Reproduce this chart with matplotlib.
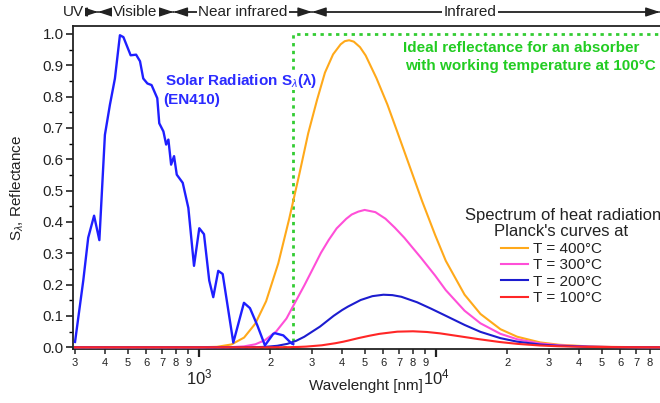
import numpy as np
import matplotlib
matplotlib.use('Agg')
import matplotlib.pyplot as plt
from matplotlib.ticker import FixedLocator, FixedFormatter, FormatStrFormatter, MultipleLocator

plt.rcParams['font.family'] = ['Liberation Sans', 'DejaVu Sans']
plt.rcParams['mathtext.fontset'] = 'custom'
plt.rcParams['mathtext.rm'] = 'Liberation Sans'
plt.rcParams['mathtext.it'] = 'Liberation Sans:italic'
plt.rcParams['mathtext.bf'] = 'Liberation Sans:bold'

# ---------------- data ----------------
solar_wl = [300, 325, 341, 361, 380, 401, 421, 442, 464, 480, 515, 543, 564, 582, 606, 631,
            667, 680, 708, 727, 743, 763, 785, 806, 854, 902, 953, 1003, 1050, 1105, 1149,
            1206, 1259, 1396, 1548, 1641, 1763, 1898, 2059, 2094, 2269, 2461, 2500]
solar_val = [0.017, 0.213, 0.35, 0.42, 0.342, 0.678, 0.774, 0.858, 0.996, 0.99, 0.932, 0.934,
             0.913, 0.858, 0.842, 0.837, 0.795, 0.715, 0.689, 0.647, 0.663, 0.583, 0.61, 0.551,
             0.525, 0.445, 0.26, 0.38, 0.361, 0.213, 0.16, 0.244, 0.234, 0.015, 0.142, 0.125,
             0.07, 0.006, 0.043, 0.045, 0.038, 0.012, 0.01]

t400_wl = [300, 500, 700, 1000, 1190, 1370, 1550, 1730, 1920, 2160, 2400, 2650, 2890, 3150,
           3400, 3680, 3960, 4120, 4300, 4500, 4780, 5050, 5610, 6240, 6850, 7490, 8730, 9920,
           11000, 13200, 15400, 18700, 22000, 27500, 33000, 44000, 55000, 77000, 100000]
t400_val = [0, 0, 0, 0.0001, 0.0015, 0.009, 0.031, 0.0759, 0.147, 0.2675, 0.4085, 0.552, 0.683,
            0.79, 0.8765, 0.935, 0.967, 0.977, 0.98, 0.9756, 0.958, 0.9314, 0.8588, 0.7745,
            0.69, 0.608, 0.4675, 0.3583, 0.276, 0.168, 0.1065, 0.0578, 0.0338, 0.0156, 0.0082,
            0.0029, 0.0012, 0.0003, 0.0001]

t300_wl = [300, 700, 1000, 1200, 1370, 1550, 1730, 1900, 2120, 2340, 2540, 2780, 3020, 3270,
           3530, 3810, 4180, 4410, 4700, 5000, 5550, 6120, 6700, 7350, 8650, 9920, 11000,
           13200, 15400, 18700, 22000, 27500, 33000, 44000, 55000, 77000, 100000]
t300_val = [0, 0, 0, 0.0001, 0.0006, 0.003, 0.0096, 0.0228, 0.051, 0.0919, 0.1421, 0.1969,
            0.25, 0.3014, 0.343, 0.3795, 0.41, 0.4238, 0.433, 0.4384, 0.4314, 0.4105, 0.382,
            0.3497, 0.2854, 0.2288, 0.1824, 0.1168, 0.0766, 0.043, 0.0257, 0.0122, 0.0065,
            0.0023, 0.001, 0.0003, 0.0001]

t200_wl = [300, 1000, 1600, 1750, 1920, 2140, 2360, 2570, 2780, 3240, 3700, 4020, 4250, 4810,
           5390, 6000, 6550, 7140, 8320, 9540, 10800, 13200, 15400, 18700, 22000, 27500, 33000,
           44000, 55000, 77000, 100000]
t200_val = [0, 0, 0.0001, 0.0005, 0.0016, 0.0048, 0.011, 0.0206, 0.0335, 0.066, 0.1004, 0.119,
            0.1298, 0.1509, 0.1632, 0.1678, 0.1665, 0.1613, 0.1438, 0.1232, 0.1035, 0.0714,
            0.0493, 0.0292, 0.018, 0.0089, 0.0048, 0.0018, 0.0008, 0.0002, 0.0001]

t100_wl = [300, 1000, 2000, 2400, 2620, 2830, 3300, 3770, 4060, 4250, 4720, 5240, 5770, 6870,
           8000, 9180, 10400, 12700, 15100, 18600, 22000, 27500, 33000, 44000, 55000, 77000,
           100000]
t100_val = [0, 0, 0, 0.0004, 0.0011, 0.0022, 0.0064, 0.0131, 0.0178, 0.0212, 0.0295, 0.0369,
            0.0429, 0.0499, 0.0511, 0.0488, 0.0445, 0.0347, 0.0261, 0.0168, 0.011, 0.0057,
            0.0032, 0.0012, 0.0006, 0.0002, 0.0001]

planck_labels = ['T = 400°C', 'T = 300°C', 'T = 200°C', 'T = 100°C']
planck_colors = ['#FFA91A', '#FF4FD8', '#1C1CCF', '#FF2626']

ideal_wl = [295, 2500, 2500, 100000]
ideal_val = [0, 0, 1.0, 1.0]

region_names = ['UV', 'Visible', 'Near infrared', 'Infrared']
region_bounds = [295, 375, 780, 3000, 88000]
region_label_wl = [295, 540, 1530, 13900]

minor_ticks = [300, 400, 500, 600, 700, 800, 900,
               2000, 3000, 4000, 5000, 6000, 7000, 8000, 9000,
               20000, 30000, 40000, 50000, 60000, 70000, 80000, 90000]
minor_labels = ['3', '4', '5', '6', '7', '8', '9'] + ['2', '3', '4', '5', '6', '7', '8', '9'] * 2
major_ticks = [1000, 10000]
major_labels = ['$10^3$', '$10^4$']

# ---------------- figure ----------------
W, H = 660, 403
fig = plt.figure(figsize=(W / 100, H / 100), dpi=100)
ax_left, ax_right, ax_top, ax_bot = 73.3, 673.0, 26.0, 349.3
ax = fig.add_axes([ax_left / W, 1 - ax_bot / H, (ax_right - ax_left) / W, (ax_bot - ax_top) / H])
ax.set_xscale('log')
ax.set_xlim(295, 100000)
ax.set_ylim(-0.0064, 1.0255)

spine_col = '#222222'
for s in ax.spines.values():
    s.set_color(spine_col)
    s.set_linewidth(1.3)

ax.plot(ideal_wl, ideal_val, color='#33CC33', lw=2.0, ls=(0, (1.2, 1.6)), zorder=2)

lines = []
for wl, vals, col, lab in zip([t400_wl, t300_wl, t200_wl, t100_wl],
                              [t400_val, t300_val, t200_val, t100_val],
                              planck_colors, planck_labels):
    ln, = ax.plot(wl, vals, color=col, lw=1.5, label=lab, zorder=3, solid_joinstyle='round')
    lines.append(ln)
ax.plot(solar_wl, solar_val, color='#1F1FFF', lw=1.7, zorder=4, solid_joinstyle='round')

# ticks
ax.xaxis.set_major_locator(FixedLocator(major_ticks))
ax.xaxis.set_major_formatter(FixedFormatter(major_labels))
ax.xaxis.set_minor_locator(FixedLocator(minor_ticks))
ax.xaxis.set_minor_formatter(FixedFormatter(minor_labels))
ax.tick_params(axis='x', which='major', direction='out', length=6, width=1.6, pad=7,
               labelsize=12, colors=spine_col)
ax.tick_params(axis='x', which='minor', direction='out', length=3.6, width=1.1, pad=2.5,
               labelsize=8, colors=spine_col)
ax.yaxis.set_major_locator(MultipleLocator(0.1))
ax.yaxis.set_minor_locator(MultipleLocator(0.05))
ax.yaxis.set_major_formatter(FormatStrFormatter('%.1f'))
ax.tick_params(axis='y', which='major', direction='out', length=5, width=1.2, pad=2,
               labelsize=11, colors=spine_col)
ax.tick_params(axis='y', which='minor', direction='out', length=3, width=1.0)

fig.text(366 / W, 1 - 386 / H, 'Wavelenght [nm]', ha='center', va='center', fontsize=11,
         color=spine_col)
fig.text(17 / W, 1 - 188 / H, 'S$_\\lambda$, Reflectance', ha='center', va='center',
         rotation=90, fontsize=11, color=spine_col)

# annotations
fig.text(165 / W, 1 - 80 / H, 'Solar Radiation S$_{\\lambda}$(λ)', ha='left', va='center',
         fontsize=11, fontweight='bold', color='#2B2BFF', zorder=6,
         bbox=dict(boxstyle='square,pad=0.05', fc='white', ec='none'))
fig.text(163 / W, 1 - 100 / H, '(EN410)', ha='left', va='center',
         fontsize=11, fontweight='bold', color='#2B2BFF')
fig.text(403 / W, 1 - 48 / H, 'Ideal reflectance for an absorber', ha='left', va='center',
         fontsize=11, fontweight='bold', color='#22CC22')
fig.text(405 / W, 1 - 66 / H, 'with working temperature at 100°C', ha='left', va='center',
         fontsize=11, fontweight='bold', color='#22CC22')

fig.text(563 / W, 1 - 215 / H, 'Spectrum of heat radiation', ha='center', va='center',
         fontsize=12, color=spine_col)
fig.text(561 / W, 1 - 232 / H, "Planck's curves at", ha='center', va='center',
         fontsize=12, color=spine_col)
leg = ax.legend(handles=lines, loc='upper left', bbox_to_anchor=(501 / W, 1 - 242 / H),
                bbox_transform=fig.transFigure, frameon=False, fontsize=11,
                handlelength=1.75, handletextpad=0.33, labelspacing=0.15,
                borderpad=0, borderaxespad=0)
for t in leg.get_texts():
    t.set_color(spine_col)

# header regions with arrows
hy = 1 - 12 / H
for i, name in enumerate(region_names):
    a, b = region_bounds[i], region_bounds[i + 1]
    for p, q in ((a, b), (b, a)):
        ax.annotate('', xy=(q, hy), xytext=(p, hy), xycoords=('data', 'figure fraction'),
                    textcoords=('data', 'figure fraction'), annotation_clip=False,
                    arrowprops=dict(arrowstyle='-|>,head_length=0.85,head_width=0.28',
                                    color=spine_col, lw=1.0, shrinkA=0, shrinkB=0,
                                    mutation_scale=10))
    ax.annotate(name, xy=(region_label_wl[i], hy), xycoords=('data', 'figure fraction'),
                ha='center', va='center', fontsize=11, color=spine_col, annotation_clip=False,
                bbox=dict(boxstyle='square,pad=0.1', fc='white', ec='none'), zorder=10)

fig.savefig('out.png', dpi=100)
